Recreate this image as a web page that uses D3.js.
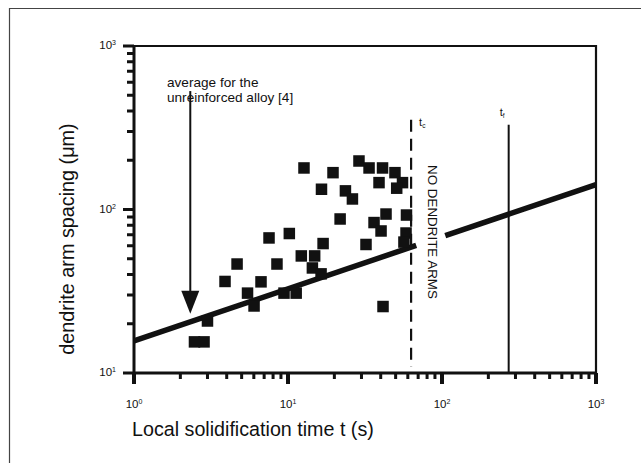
<!DOCTYPE html>
<html>
<head>
<meta charset="utf-8">
<script src="https://cdn.jsdelivr.net/npm/d3@7"></script>
<style>
  html, body { margin: 0; padding: 0; background: #fff; }
  svg { display: block; }
  text { font-family: "Liberation Sans", Arial, Helvetica, sans-serif; fill: #111; }
</style>
</head>
<body>
<svg id="chart" width="641" height="463"></svg>
<script>
// ---- data ----
const timeS = [2.47, 2.85, 3.0, 3.9, 4.67, 5.46, 6.02, 6.68, 7.53, 8.48, 9.42, 10.2, 11.3,
  12.7, 12.2, 14.9, 14.4, 16.4, 16.9, 16.5, 19.6, 21.8, 23.6, 26.2, 28.9, 32.1, 33.6, 36.2,
  41.1, 39.0, 40.2, 43.3, 41.4, 49.5, 55.4, 50.8, 58.8, 58.4, 56.6];
const spacingUm = [15.5, 15.5, 20.8, 36.3, 46.4, 30.8, 25.7, 36.1, 67.0, 46.4, 30.8, 71.3, 30.8,
  179.5, 52.0, 52.0, 43.9, 40.4, 61.9, 133, 168, 87.5, 130, 116, 198, 61.1, 179.5, 83.2,
  179.5, 146, 73.9, 93.8, 25.5, 168, 146, 135, 92.5, 71.8, 63.2];

// fitted line, drawn in two pieces (gap for the label)
const fitTime1 = [1, 68];
const fitSpacing1 = [15.7, 60.3];
const fitTime2 = [105, 1000];
const fitSpacing2 = [69.2, 142];

const tcTime = 63, tcTop = 354;      // dashed line t_c
const tfTime = 271, tfTop = 330;     // solid line t_f
const arrowTime = 2.32, arrowTop = 530, arrowTip = 23.0;

const xMajor = [1, 10, 100, 1000];
const xMajorExp = ["0", "1", "2", "3"];
const yMajor = [10, 100, 1000];
const yMajorExp = ["1", "2", "3"];
const xMinor = [2, 3, 4, 5, 6, 7, 8, 9, 20, 30, 40, 50, 60, 70, 80, 90, 200, 300, 400, 500, 600, 700, 800, 900];
const yMinor = [20, 30, 40, 50, 60, 70, 80, 90, 200, 300, 400, 500, 600, 700, 800, 900];

// ---- drawing ----
const svg = d3.select("#chart");
const x = d3.scaleLog().domain([1, 1000]).range([134, 596]);
const y = d3.scaleLog().domain([10, 1000]).range([373, 46]);
const baseY = 373, baseX = 134;

// page border from scan
svg.append("path")
  .attr("d", "M9.5,463 L9.5,8.5 L641,8.5")
  .attr("fill", "none").attr("stroke", "#444").attr("stroke-width", 1.2);

// axes + ticks as one path built from the scales
const p = d3.path();
p.moveTo(x(1), y(1000)); p.lineTo(x(1), y(10)); p.lineTo(x(1000), y(10));
xMinor.forEach(v => { p.moveTo(x(v), baseY); p.lineTo(x(v), baseY + 6); });
yMinor.forEach(v => { p.moveTo(baseX, y(v)); p.lineTo(baseX - 7, y(v)); });
yMajor.forEach(v => { p.moveTo(baseX, y(v)); p.lineTo(baseX - 11, y(v)); });
svg.append("path").attr("d", p.toString())
  .attr("fill", "none").attr("stroke", "#111").attr("stroke-width", 3);
const pm = d3.path();
xMajor.forEach(v => { pm.moveTo(x(v), baseY); pm.lineTo(x(v), baseY + 11); });
svg.append("path").attr("d", pm.toString())
  .attr("fill", "none").attr("stroke", "#111").attr("stroke-width", 4);

// top and right frame
const pf = d3.path();
pf.moveTo(x(1), y(1000)); pf.lineTo(x(1000), y(1000)); pf.lineTo(x(1000), y(10));
svg.append("path").attr("d", pf.toString())
  .attr("fill", "none").attr("stroke", "#111").attr("stroke-width", 2.2);

// tick labels
xMajor.forEach((v, i) => {
  const t = svg.append("text").attr("x", x(v)).attr("y", 408)
    .attr("text-anchor", "middle").style("font-size", "11.5px");
  t.append("tspan").text("10");
  t.append("tspan").attr("dy", -4).style("font-size", "7px").text(xMajorExp[i]);
});
yMajor.forEach((v, i) => {
  const t = svg.append("text").attr("x", 116).attr("y", y(v) + 3)
    .attr("text-anchor", "end").style("font-size", "11.5px");
  t.append("tspan").text("10");
  t.append("tspan").attr("dy", -4).style("font-size", "7px").text(yMajorExp[i]);
});

// axis titles
svg.append("text").attr("x", 132).attr("y", 436)
  .style("font-size", "19.7px").text("Local solidification time t (s)");
svg.append("text").attr("transform", "translate(74,239) rotate(-90)")
  .attr("text-anchor", "middle").style("font-size", "19.8px")
  .text("dendrite arm spacing  (\u03bcm)");

// t_c dashed line & t_f line
svg.append("line").attr("x1", x(tcTime)).attr("x2", x(tcTime))
  .attr("y1", y(tcTop)).attr("y2", y(10) - 6)
  .attr("stroke", "#111").attr("stroke-width", 2.2).attr("stroke-dasharray", "12,7");
svg.append("line").attr("x1", x(tfTime)).attr("x2", x(tfTime))
  .attr("y1", y(tfTop)).attr("y2", y(10))
  .attr("stroke", "#111").attr("stroke-width", 2);

const tc = svg.append("text").attr("x", x(tcTime) + 8).attr("y", 126).style("font-size", "11px");
tc.append("tspan").text("t");
tc.append("tspan").attr("dy", 2).style("font-size", "6.5px").text("c");
const tf = svg.append("text").attr("x", x(tfTime) - 9).attr("y", 116).style("font-size", "11px");
tf.append("tspan").text("t");
tf.append("tspan").attr("dy", 2).style("font-size", "6.5px").text("f");

// NO DENDRITE ARMS
svg.append("text").attr("transform", "translate(428,165) rotate(90)")
  .style("font-size", "13.4px").text("NO DENDRITE ARMS");

// fitted line
const lineGen = d3.line().x(d => x(d[0])).y(d => y(d[1]));
[[fitTime1, fitSpacing1], [fitTime2, fitSpacing2]].forEach(([ts, ss]) => {
  svg.append("path").datum(ts.map((t, i) => [t, ss[i]]))
    .attr("d", lineGen).attr("fill", "none").attr("stroke", "#111").attr("stroke-width", 5.5);
});

// data squares
const sq = 11.5;
svg.append("g").selectAll("rect").data(timeS.map((t, i) => [t, spacingUm[i]]))
  .join("rect")
  .attr("x", d => x(d[0]) - sq / 2).attr("y", d => y(d[1]) - sq / 2)
  .attr("width", sq).attr("height", sq).attr("fill", "#111");

// annotation arrow
const ax = x(arrowTime);
svg.append("line").attr("x1", ax).attr("x2", ax).attr("y1", y(arrowTop)).attr("y2", y(arrowTip) - 20)
  .attr("stroke", "#111").attr("stroke-width", 2);
svg.append("path")
  .attr("d", `M${ax - 9},${y(arrowTip) - 23} L${ax + 9},${y(arrowTip) - 23} L${ax},${y(arrowTip)} Z`)
  .attr("fill", "#111");

svg.append("text").attr("x", 167).attr("y", 87).style("font-size", "13.6px").text("average for the");
svg.append("text").attr("x", 167).attr("y", 101.5).style("font-size", "13.6px").text("unreinforced alloy [4]");
</script>
</body>
</html>
